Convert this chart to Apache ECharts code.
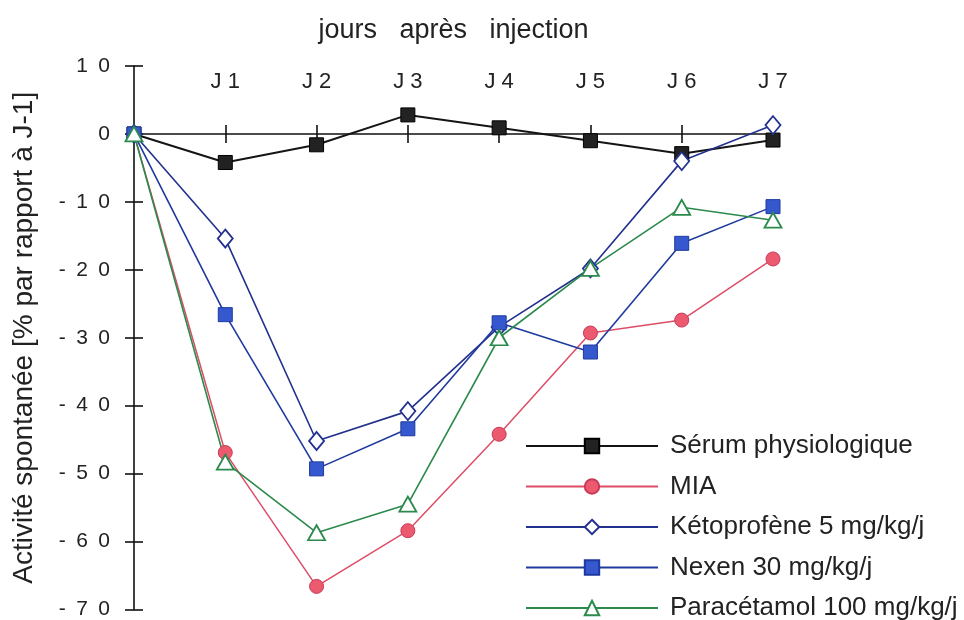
<!DOCTYPE html>
<html>
<head>
<meta charset="utf-8">
<script src="https://cdn.jsdelivr.net/npm/echarts@6/dist/echarts.min.js"></script>
<style>
  html, body { margin: 0; padding: 0; background: #fff; }
  #chart { width: 964px; height: 620px; }
</style>
</head>
<body>
<div id="chart"></div>
<script>
// Days after injection (0 = injection day)
const days = [0, 1, 2, 3, 4, 5, 6, 7];
const dayLabelPrefix = 'J ';

// Spontaneous activity, % relative to J-1
const serum       = [0, -4.2, -1.6, 2.8, 0.9, -1.0, -2.9, -0.9];
const mia         = [0, -46.9, -66.6, -58.4, -44.2, -29.3, -27.4, -18.4];
const ketoprofene = [0, -15.4, -45.2, -40.8, -28.4, -19.8, -4.0, 1.3];
const nexen       = [0, -26.6, -49.3, -43.4, -27.8, -32.1, -16.1, -10.7];
const paracetamol = [0, -48.3, -58.7, -54.5, -30.0, -19.8, -10.8, -12.7];

const seriesNames = [
  'Sérum physiologique',
  'MIA',
  'Kétoprofène 5 mg/kg/j',
  'Nexen 30 mg/kg/j',
  'Paracétamol 100 mg/kg/j'
];

// y ticks
const yMin = -70, yMax = 10, yStep = 10;

const FONT = '"Liberation Sans", Arial, Helvetica, sans-serif';
const TEXT = '#222';

const pairs = arr => days.map((d, i) => [d, arr[i]]);
const spaced = v => String(v).split('').join('\u2002');

const chart = echarts.init(document.getElementById('chart'), null, { renderer: 'canvas' });

const grid = { left: 134, right: 191, top: 66, bottom: 9 };

const baseX = { type: 'value', min: 0, max: 7, interval: 1, splitLine: { show: false } };
const baseY = { type: 'value', min: yMin, max: yMax, interval: yStep, splitLine: { show: false } };

chart.setOption({
  animation: false,
  backgroundColor: '#fff',
  grid: grid,
  xAxis: [
    // axis line through zero, tick marks below it
    Object.assign({}, baseX, {
      position: 'bottom',
      axisLine: { show: true, onZero: true, onZeroAxisIndex: 0, lineStyle: { color: '#111', width: 1.6 } },
      axisTick: { show: true, inside: false, length: 9, lineStyle: { color: '#111', width: 1.6 } },
      axisLabel: { show: false }
    }),
    // tick marks above the zero line
    Object.assign({}, baseX, {
      position: 'top',
      axisLine: { show: false, onZero: true, onZeroAxisIndex: 0 },
      axisTick: { show: true, inside: false, length: 9, lineStyle: { color: '#111', width: 1.6 } },
      axisLabel: { show: false }
    }),
    // day labels and title along the top
    Object.assign({}, baseX, {
      position: 'top',
      axisLine: { show: false, onZero: false },
      axisTick: { show: false },
      axisLabel: {
        show: true, inside: true, margin: 5,
        fontFamily: FONT, fontSize: 22, color: TEXT,
        formatter: v => (v === 0 ? '' : dayLabelPrefix + v)
      },
      name: 'jours   après   injection',
      nameLocation: 'middle',
      nameGap: 22,
      nameTextStyle: { fontFamily: FONT, fontSize: 27, color: TEXT }
    })
  ],
  yAxis: [
    Object.assign({}, baseY, {
      position: 'left',
      axisLine: { show: true, onZero: false, lineStyle: { color: '#111', width: 1.6 } },
      axisTick: { show: true, inside: false, length: 9, lineStyle: { color: '#111', width: 1.6 } },
      axisLabel: {
        show: true, margin: 24,
        fontFamily: FONT, fontSize: 21, color: TEXT,
        formatter: v => spaced(v)
      },
      name: 'Activité spontanée [% par rapport à J-1]',
      nameLocation: 'middle',
      nameGap: 96,
      nameTextStyle: { fontFamily: FONT, fontSize: 28, color: TEXT }
    }),
    Object.assign({}, baseY, {
      position: 'left',
      axisLine: { show: false, onZero: false },
      axisTick: { show: true, inside: true, length: 9, lineStyle: { color: '#111', width: 1.6 } },
      axisLabel: { show: false }
    })
  ],
  legend: {
    orient: 'vertical',
    left: 525,
    top: 433,
    height: 260,
    padding: 0,
    itemWidth: 132,
    itemHeight: 18,
    itemGap: 14.5,
    data: seriesNames,
    textStyle: { fontFamily: FONT, fontSize: 26, color: TEXT, padding: [0, 0, 0, 7] }
  },
  series: [
    {
      name: seriesNames[0], type: 'line', data: pairs(serum),
      symbol: 'rect', symbolSize: 14,
      lineStyle: { color: '#151515', width: 2 },
      itemStyle: { color: '#222', borderColor: '#000', borderWidth: 1 }
    },
    {
      name: seriesNames[1], type: 'line', data: pairs(mia),
      symbol: 'circle', symbolSize: 14,
      lineStyle: { color: '#dd4d66', width: 1.5 },
      itemStyle: { color: '#ec5a70', borderColor: '#c83a55', borderWidth: 1 }
    },
    {
      name: seriesNames[2], type: 'line', data: pairs(ketoprofene),
      symbol: 'diamond', symbolSize: [15, 18],
      lineStyle: { color: '#23318e', width: 1.6 },
      itemStyle: { color: '#fff', borderColor: '#23318e', borderWidth: 1.8 }
    },
    {
      name: seriesNames[3], type: 'line', data: pairs(nexen),
      symbol: 'rect', symbolSize: 14,
      lineStyle: { color: '#1f3a9e', width: 1.6 },
      itemStyle: { color: '#3658cf', borderColor: '#1f3a9e', borderWidth: 1 }
    },
    {
      name: seriesNames[4], type: 'line', data: pairs(paracetamol),
      symbol: 'triangle', symbolSize: [17, 15],
      lineStyle: { color: '#2b8a4c', width: 1.6 },
      itemStyle: { color: '#fff', borderColor: '#2b8a4c', borderWidth: 1.8 }
    }
  ]
});
</script>
</body>
</html>
